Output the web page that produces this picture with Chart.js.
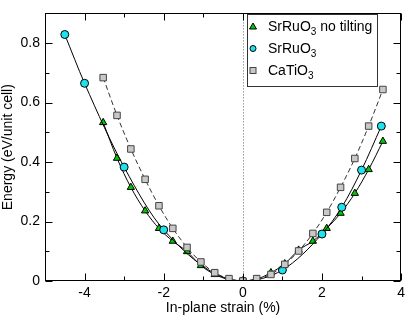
<!DOCTYPE html>
<html>
<head>
<meta charset="utf-8">
<script src="https://cdn.jsdelivr.net/npm/chart.js@4.4.0/dist/chart.umd.min.js"></script>
<style>
html, body { margin: 0; padding: 0; background: #fff; }
</style>
</head>
<body>
<canvas id="chart" width="409" height="317"></canvas>
<script>
// data
var noTiltX = [-3.53, -3.18, -2.83, -2.47, -2.12, -1.77, -1.41, -1.06, -0.71, -0.35, 0, 0.35, 0.71, 1.06, 1.41, 1.77, 2.12, 2.47, 2.83, 3.18, 3.54];
var noTiltY = [0.533, 0.413, 0.315, 0.236, 0.177, 0.134, 0.099, 0.052, 0.022, 0.005, 0, 0.006, 0.028, 0.058, 0.104, 0.134, 0.177, 0.228, 0.295, 0.375, 0.47];

var srX = [-4.5, -4, -3, -2, 0, 1, 2, 2.5, 3, 3.5];
var srY = [0.829, 0.665, 0.383, 0.172, 0, 0.037, 0.158, 0.248, 0.373, 0.521];

var caX = [-3.53, -3.18, -2.83, -2.47, -2.12, -1.77, -1.41, -1.06, -0.71, -0.35, 0, 0.35, 0.71, 1.06, 1.41, 1.77, 2.12, 2.47, 2.83, 3.18, 3.54];
var caY = [0.684, 0.557, 0.444, 0.342, 0.253, 0.177, 0.113, 0.064, 0.028, 0.008, 0, 0.008, 0.022, 0.056, 0.101, 0.16, 0.231, 0.315, 0.412, 0.521, 0.644];

var xTicks = [-4, -2, 0, 2, 4];
var xTickLabels = ["-4", "-2", "0", "2", "4"];
var xMinor = [-3, -1, 1, 3];
var yTicks = [0, 0.2, 0.4, 0.6, 0.8];
var yTickLabels = ["0", "0.2", "0.4", "0.6", "0.8"];
var yMinor = [0.1, 0.3, 0.5, 0.7];

var FONT = "'Liberation Sans', Arial, Helvetica, sans-serif";

function pts(xs, ys) {
  var out = [];
  for (var i = 0; i < xs.length; ++i) out.push({ x: xs[i], y: ys[i] });
  return out;
}

function line(ctx, x1, y1, x2, y2) {
  ctx.beginPath();
  ctx.moveTo(x1, y1);
  ctx.lineTo(x2, y2);
  ctx.stroke();
}

// frame, inward ticks, zero line and the boxed legend
var decor = {
  id: 'decor',
  beforeDatasetsDraw: function(chart) {
    var ctx = chart.ctx, a = chart.chartArea;
    var x0 = Math.round(chart.scales.x.getPixelForValue(0)) + 0.5;
    ctx.save();
    ctx.strokeStyle = '#666';
    ctx.lineWidth = 1;
    ctx.setLineDash([1, 2]);
    line(ctx, x0, a.top, x0, a.bottom);
    ctx.restore();
  },
  afterDatasetsDraw: function(chart) {
    var ctx = chart.ctx, a = chart.chartArea;
    var sx = chart.scales.x, sy = chart.scales.y;
    var L = Math.round(a.left) + 0.5, R = Math.round(a.right) - 0.5;
    var T = Math.round(a.top) + 0.5, B = Math.round(a.bottom) - 0.5;
    ctx.save();
    ctx.strokeStyle = '#000';
    ctx.lineWidth = 1;
    ctx.strokeRect(L, T, R - L, B - T);
    var i, p;
    for (i = 0; i < xTicks.length; ++i) {
      p = Math.round(sx.getPixelForValue(xTicks[i])) + 0.5;
      line(ctx, p, B, p, B - 7);
      line(ctx, p, T, p, T + 7);
    }
    for (i = 0; i < xMinor.length; ++i) {
      p = Math.round(sx.getPixelForValue(xMinor[i])) + 0.5;
      line(ctx, p, B, p, B - 4);
      line(ctx, p, T, p, T + 4);
    }
    for (i = 0; i < yTicks.length; ++i) {
      p = Math.round(sy.getPixelForValue(yTicks[i])) + 0.5;
      line(ctx, L, p, L + 7, p);
      line(ctx, R, p, R - 7, p);
    }
    for (i = 0; i < yMinor.length; ++i) {
      p = Math.round(sy.getPixelForValue(yMinor[i])) + 0.5;
      line(ctx, L, p, L + 4, p);
      line(ctx, R, p, R - 4, p);
    }

    // legend
    var bx = 247.5, by = 14.5, bw = 130, bh = 72;
    ctx.fillStyle = '#fff';
    ctx.fillRect(bx, by, bw, bh);
    ctx.strokeStyle = '#333';
    ctx.strokeRect(bx, by, bw, bh);

    var mx = 253, rows = [26.5, 48.5, 70.5];
    ctx.strokeStyle = '#000';
    // triangle
    ctx.fillStyle = '#00c800';
    ctx.beginPath();
    ctx.moveTo(mx, rows[0] - 3.5);
    ctx.lineTo(mx + 3.5, rows[0] + 2.5);
    ctx.lineTo(mx - 3.5, rows[0] + 2.5);
    ctx.closePath();
    ctx.fill(); ctx.stroke();
    // circle
    ctx.fillStyle = '#1ee3ee';
    ctx.beginPath();
    ctx.arc(mx, rows[1], 3, 0, Math.PI * 2);
    ctx.fill(); ctx.stroke();
    // square
    ctx.fillStyle = '#c8c8c8';
    ctx.strokeStyle = '#444';
    ctx.fillRect(mx - 3, rows[2] - 3, 6, 6);
    ctx.strokeRect(mx - 3, rows[2] - 3, 6, 6);

    var labels = [["SrRuO", "3", " no tilting"], ["SrRuO", "3", ""], ["CaTiO", "3", ""]];
    ctx.fillStyle = '#000';
    ctx.textBaseline = 'alphabetic';
    ctx.textAlign = 'left';
    for (i = 0; i < labels.length; ++i) {
      var tx = 268, base = rows[i] + 4.5;
      ctx.font = '14px ' + FONT;
      ctx.fillText(labels[i][0], tx, base);
      tx += ctx.measureText(labels[i][0]).width;
      ctx.font = '10px ' + FONT;
      ctx.fillText(labels[i][1], tx, base + 4);
      tx += ctx.measureText(labels[i][1]).width;
      ctx.font = '14px ' + FONT;
      ctx.fillText(labels[i][2], tx, base);
    }
    ctx.restore();
  }
};

var ctx = document.getElementById("chart").getContext("2d");
var chart = new Chart(ctx, {
  type: 'scatter',
  data: {
    datasets: [
      {
        label: "CaTiO3",
        data: pts(caX, caY),
        showLine: true,
        cubicInterpolationMode: 'monotone',
        borderColor: '#333',
        borderWidth: 1,
        borderDash: [5, 3],
        pointStyle: 'rect',
        pointRadius: 4.6,
        pointBackgroundColor: '#c8c8c8',
        pointBorderColor: '#444',
        pointBorderWidth: 1
      },
      {
        label: "SrRuO3",
        data: pts(srX, srY),
        showLine: true,
        cubicInterpolationMode: 'monotone',
        borderColor: '#000',
        borderWidth: 1,
        pointStyle: 'circle',
        pointRadius: 4,
        pointBackgroundColor: '#1ee3ee',
        pointBorderColor: '#000',
        pointBorderWidth: 1
      },
      {
        label: "SrRuO3 no tilting",
        data: pts(noTiltX, noTiltY),
        showLine: true,
        cubicInterpolationMode: 'monotone',
        borderColor: '#000',
        borderWidth: 1,
        pointStyle: 'triangle',
        pointRadius: 4.2,
        pointBackgroundColor: '#00c800',
        pointBorderColor: '#000',
        pointBorderWidth: 1
      }
    ]
  },
  options: {
    responsive: false,
    animation: false,
    devicePixelRatio: 1,
    layout: { padding: { top: 2, right: 4, left: 0, bottom: 0 } },
    plugins: {
      legend: { display: false },
      tooltip: { enabled: false }
    },
    scales: {
      x: {
        type: 'linear',
        min: -5,
        max: 4,
        afterBuildTicks: function(s) { s.ticks = xTicks.map(function(v) { return { value: v }; }); },
        afterFit: function(s) { s.height = 36; },
        grid: { display: false, drawTicks: false },
        border: { display: false },
        ticks: {
          color: '#000',
          font: { family: FONT, size: 14 },
          padding: 4,
          maxRotation: 0,
          callback: function(v, i) { return xTickLabels[i]; }
        },
        title: {
          display: true,
          text: 'In-plane strain (%)',
          color: '#000',
          font: { family: FONT, size: 14 },
          padding: { top: 0, bottom: 0 }
        }
      },
      y: {
        type: 'linear',
        min: 0,
        max: 0.9,
        afterBuildTicks: function(s) { s.ticks = yTicks.map(function(v) { return { value: v }; }); },
        afterFit: function(s) { s.width = 45; },
        grid: { display: false, drawTicks: false },
        border: { display: false },
        ticks: {
          color: '#000',
          font: { family: FONT, size: 14 },
          padding: 5,
          callback: function(v, i) { return yTickLabels[i]; }
        },
        title: {
          display: true,
          text: 'Energy (eV/unit cell)',
          color: '#000',
          font: { family: FONT, size: 14 },
          padding: { top: 0, bottom: 0 }
        }
      }
    }
  },
  plugins: [decor]
});
</script>
</body>
</html>
